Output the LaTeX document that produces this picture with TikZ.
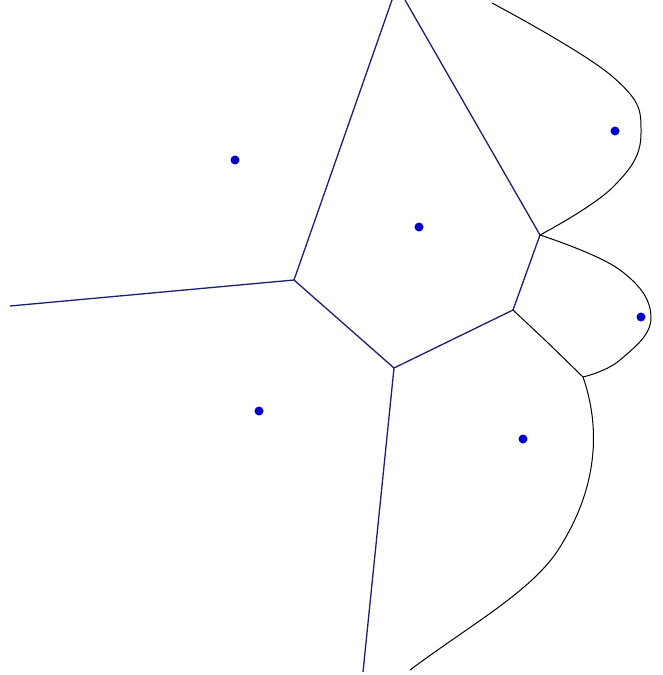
\documentclass[tikz,border=0pt]{standalone}
\begin{document}
\begin{tikzpicture}[x=1pt,y=-1pt,
  edge/.style={draw={rgb,255:red,30;green,30;blue,110},line width=1.3pt},
  parab/.style={draw=black,line width=1pt},
  site/.style={circle,fill={rgb,255:red,0;green,0;blue,200},inner sep=0pt,minimum size=9pt}]
\useasboundingbox (0,0) rectangle (663,675);
% vertices
\coordinate (A) at (294,280);
\coordinate (B) at (394,368);
\coordinate (C) at (513,310);
\coordinate (D) at (540,235);
\coordinate (E) at (583,377);
\coordinate (L) at (10,306);
\coordinate (T1) at (392,0);
\coordinate (T2) at (405,0);
\coordinate (Bot) at (363,672);
\coordinate (P1) at (492,3);
\coordinate (M) at (560,547);
\coordinate (P2) at (410,670);
% sites
\node[site] (s1) at (235,160) {};
\node[site] (s2) at (419,227) {};
\node[site] (s3) at (615,131) {};
\node[site] (s4) at (641,317) {};
\node[site] (s5) at (259,411) {};
\node[site] (s6) at (523,439) {};
% straight edges
\draw[edge] (L) -- (A);
\draw[edge] (A) -- (T1);
\draw[edge] (T2) -- (D);
\draw[edge] (A) -- (B);
\draw[edge] (B) -- (C);
\draw[edge] (C) -- (D);
\draw[edge] (B) -- (Bot);
% parabolic arcs
\draw[parab] plot[smooth,tension=0.7] coordinates {(P1) (613,77) (641,133) (613,187) (D)};
\draw[parab] plot[smooth,tension=0.7] coordinates {(D) (620,270) (651,318) (620,360) (E)};
\draw[parab] plot[smooth,tension=0.5] coordinates {(C) (547,342) (E)};
\draw[parab] (E) .. controls (598,420) and (602,480) .. (M)
  .. controls (534,590) and (470,625) .. (P2);
\end{tikzpicture}
\end{document}
